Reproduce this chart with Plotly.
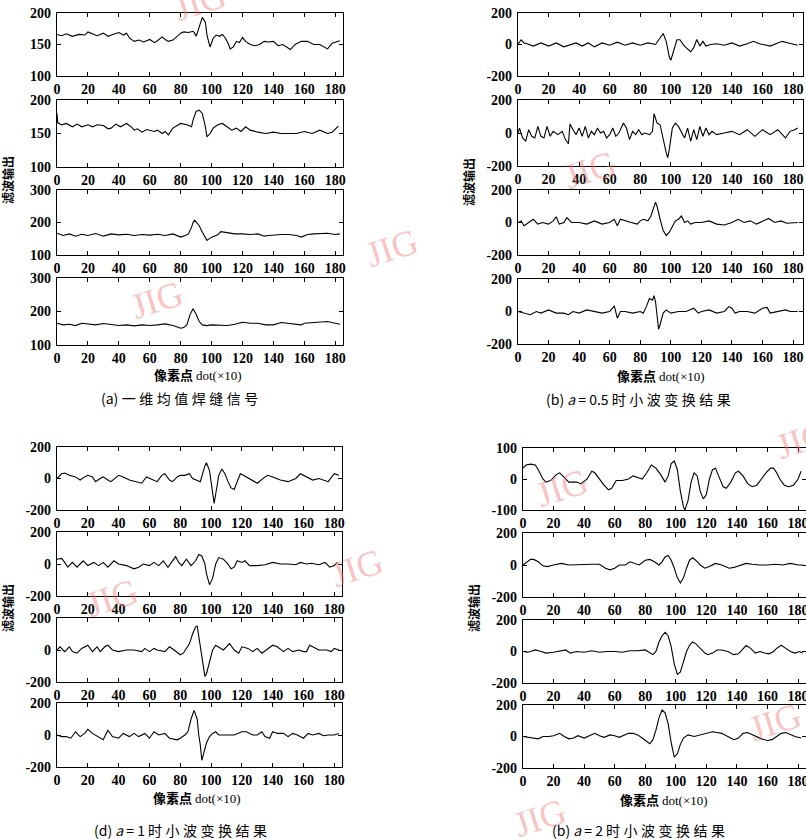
import plotly.graph_objects as go

W, H = 806, 839

X_TICKS = [0, 20, 40, 60, 80, 100, 120, 140, 160, 180]

# ---------- Panel (a): 1-D mean weld signal ----------
A1_X = [0,3,6,10,14,18,20,23,26,30,33,36,40,43,45,47,50,53,56,60,63,65,68,70,72,75,78,80,82,85,88,89,90,92,94,96,97,99,101,103,105,107,109,111,112,114,116,118,120,122,125,128,131,134,137,140,143,146,149,151,154,158,162,166,170,173,175,178,181,183]
A1_Y = [166,164,167,163,166,165,170,167,164,168,163,166,169,165,168,160,155,157,154,158,153,156,162,158,155,157,163,168,170,169,171,168,163,180,193,185,165,146,160,165,163,166,160,150,143,146,155,153,161,155,150,148,150,155,154,155,148,150,146,142,150,155,155,150,150,146,143,152,155,156]
A2_X = [0,0.5,3,6,10,13,16,20,23,26,30,33,35,38,41,45,48,50,52,55,58,60,63,65,68,70,72,75,78,80,84,87,88,90,92,94,96,97,99,101,104,107,110,113,116,119,122,125,130,135,140,145,150,155,160,165,170,175,178,181,182]
A2_Y = [180,166,163,165,160,164,160,163,160,163,162,157,158,164,160,165,160,155,157,152,156,155,153,155,150,153,148,158,163,165,163,160,170,183,185,180,160,145,150,158,163,165,160,155,158,153,160,155,152,150,152,150,150,150,153,150,155,150,152,158,161]
A3_X = [0,4,8,12,16,20,25,30,35,40,45,50,55,60,65,70,75,80,83,85,87,88,89,90,92,94,96,97,100,104,106,110,115,120,125,130,134,137,140,145,150,155,158,162,166,170,175,180,183]
A3_Y = [167,160,165,158,164,160,166,158,165,162,164,160,163,161,164,160,165,155,160,165,185,200,207,200,190,170,150,145,155,162,172,168,165,165,163,165,158,160,162,163,163,160,155,163,165,165,167,163,165]
A4_X = [0,4,8,12,16,20,25,30,35,40,45,50,55,60,65,70,75,78,80,82,84,86,88,90,92,94,97,100,105,110,115,120,125,130,135,140,145,150,155,158,160,165,170,175,180,183]
A4_Y = [165,160,162,158,165,162,160,164,160,158,160,157,160,158,160,163,158,152,150,152,160,190,208,192,170,160,158,160,158,158,162,168,165,165,160,160,167,165,163,160,165,167,168,170,165,162]

# ---------- Panel (b): a = 0.5 ----------
B1_X = [0,2,4,6,10,15,20,25,30,35,38,42,46,50,55,60,65,70,75,80,85,90,93,95,97,99,100,102,104,106,108,110,113,115,117,119,121,123,126,130,135,140,145,150,154,158,162,165,170,173,177,180,183]
B1_Y = [0,30,10,5,-10,10,-10,10,-15,0,10,-10,10,-15,10,-5,15,-5,10,-5,10,0,40,70,20,-80,-100,-40,30,30,0,-20,-46,-20,32,-10,20,-10,0,5,-5,10,-10,5,20,5,-5,-10,10,20,10,0,-5]
B2_X = [0,1,3,5,7,9,11,13,15,17,19,21,23,26,29,31,33,34,36,38,40,42,44,46,48,50,52,54,56,58,60,62,64,66,69,71,73,75,77,79,81,83,86,88,89,91,93,95,97,98,99,101,103,105,107,109,111,113,115,117,119,121,123,125,127,130,135,140,145,150,155,160,165,170,175,178,181,183]
B2_Y = [0,30,-30,-50,20,-20,-30,40,-20,-30,40,-20,10,-10,10,-40,-65,54,20,-10,30,-20,40,-30,10,-10,30,0,10,-30,-10,30,-20,0,60,30,-40,10,-10,20,-10,0,-10,10,117,60,50,-40,-120,-150,-100,30,60,40,0,-30,30,-50,20,-40,40,-20,30,-10,10,-10,0,10,-10,20,-20,20,-10,20,-30,10,20,30]
B3_X = [0,2,4,7,10,13,16,20,23,25,27,30,32,35,40,45,50,55,60,63,65,67,70,74,78,80,82,85,87,89,90,91,92,93,95,97,99,101,103,105,107,109,111,113,116,120,125,130,135,140,144,148,152,156,160,164,168,172,176,180,183]
B3_Y = [0,10,-20,0,20,-10,0,-10,10,35,-10,0,30,0,0,-10,10,-10,0,20,-20,20,10,0,-10,10,20,10,40,100,125,100,50,20,-50,-80,-60,-20,10,20,40,0,10,-10,0,0,10,-10,-15,0,20,0,10,-10,10,25,0,10,-5,0,0]
B4_X = [0,5,8,12,15,20,25,30,33,36,40,45,50,55,60,63,65,67,70,75,80,82,84,86,88,89,90,91,92,93,95,97,100,105,110,115,118,120,125,130,135,138,140,142,145,150,155,160,163,165,170,175,178,183]
B4_Y = [0,-10,-20,0,-10,10,-10,-10,-20,0,-10,10,0,-10,0,35,-41,0,0,-10,0,-10,30,80,70,97,60,-40,-109,-80,-10,10,-10,0,0,20,-10,0,10,-10,0,30,20,-10,0,0,-10,20,25,-10,0,10,0,0]

# ---------- Panel (d): a = 1 ----------
D1_X = [0,3,5,8,12,15,18,20,23,25,28,30,33,35,40,43,47,52,55,58,62,65,68,70,73,75,78,80,83,86,88,91,93,96,97,99,101,102,103,105,107,109,111,113,115,117,119,121,125,130,135,137,140,145,150,155,158,162,166,170,173,176,180,183]
D1_Y = [0,30,35,20,10,-10,10,20,10,-20,0,10,-10,-20,20,10,-10,-20,-30,10,-10,-20,20,30,-10,-20,10,20,20,30,0,-10,-20,80,100,50,-100,-158,-100,20,60,30,-20,-60,-70,-20,30,20,0,-30,10,20,10,-10,-20,0,30,10,-10,0,-10,-20,30,20]
D2_X = [0,3,5,7,10,13,17,20,24,27,30,33,37,40,45,50,53,56,60,63,66,69,72,75,77,79,81,84,87,90,92,94,96,97,99,101,103,105,108,111,113,115,117,120,122,125,130,135,140,145,150,155,158,162,165,170,174,177,180,182]
D2_Y = [30,35,10,-20,10,-20,20,-10,10,-10,10,-20,20,0,-10,-30,-20,0,-10,10,-10,20,-20,20,46,10,-10,30,-10,20,60,50,0,-60,-129,-90,0,40,30,0,-30,-20,20,10,20,-10,-10,-5,10,0,0,-5,10,0,5,-5,10,-20,-10,10]
D3_X = [0,2,5,8,10,13,16,20,23,26,28,31,33,36,40,45,50,55,57,60,63,65,70,73,76,80,82,84,86,88,90,91,92,94,96,97,99,101,103,105,108,110,112,115,118,120,124,127,130,133,136,140,143,147,150,153,157,160,162,164,166,170,175,178,180,183]
D3_Y = [0,20,-10,20,-10,-20,10,30,-10,20,-10,20,30,0,-10,0,0,-10,10,-10,10,0,-10,20,0,-30,-20,10,40,100,145,150,90,-40,-165,-150,-80,0,30,20,0,20,40,0,-20,20,10,-10,10,-20,0,30,20,-10,10,-10,0,-10,-10,30,20,0,0,-10,10,0]
D4_X = [0,3,6,9,12,15,18,20,23,27,30,33,36,40,43,47,50,53,57,60,63,66,70,73,78,80,83,85,87,89,91,92,93,94,95,97,99,101,103,105,110,115,120,123,127,130,133,135,138,140,143,147,150,153,156,160,163,166,170,173,176,180,183]
D4_Y = [0,-10,-10,-20,20,-10,10,36,10,-10,-30,30,-10,-20,10,-10,10,-10,10,-20,20,0,10,-20,-30,-20,0,20,100,154,100,0,-60,-158,-120,-50,-10,10,20,0,0,0,20,20,0,0,20,-10,-20,20,10,10,-10,10,0,-20,10,0,10,-5,0,0,10]

# ---------- Panel (b'): a = 2 ----------
E1_X = [0,2,5,8,10,13,15,18,22,24,27,30,35,38,42,45,47,50,53,56,58,61,65,69,72,75,78,81,84,87,90,93,95,97,99,101,103,105,106,108,110,112,114,116,118,120,122,124,126,128,131,133,136,139,141,144,147,150,153,156,159,162,164,166,168,171,174,177,180,182]
E1_Y = [35,45,48,45,30,0,-10,-5,15,20,5,-10,-10,-15,0,25,20,0,-20,-35,-30,-5,-5,0,10,5,0,20,45,35,15,-10,10,50,58,30,-40,-90,-100,-70,-10,20,10,-40,-64,-50,0,30,35,10,-25,-30,-10,20,25,10,-15,-25,-20,0,20,35,35,20,0,-20,-25,-20,0,25]
E2_X = [0,3,5,7,10,13,16,20,25,30,40,45,50,54,57,60,63,67,70,73,76,80,83,86,89,91,93,95,97,99,101,103,105,107,109,111,113,116,119,122,126,130,135,138,142,146,150,155,160,165,170,175,180,183]
E2_Y = [0,20,35,35,20,-5,-10,0,10,0,5,5,5,-20,-30,-20,0,0,20,10,0,30,35,20,0,20,50,60,30,-20,-80,-112,-80,-20,30,45,30,0,-20,-10,10,0,-20,-15,0,10,5,0,0,5,0,10,0,0]
E3_X = [0,3,5,8,12,15,20,25,28,31,35,40,45,50,55,60,65,70,75,80,83,85,87,89,91,93,95,97,99,101,103,105,107,109,111,113,116,119,121,124,127,130,134,138,141,144,146,149,152,155,158,161,164,166,169,172,175,178,181,183]
E3_Y = [0,-5,0,10,0,-10,-5,5,10,-10,0,-5,5,-5,0,0,-5,5,5,10,-10,-20,0,60,100,122,100,30,-80,-145,-130,-60,0,40,60,50,20,-10,-20,-10,10,10,0,-20,-15,20,38,20,-10,0,-10,-15,0,20,40,20,0,-10,0,-10]
E4_X = [0,3,7,10,13,17,20,24,27,30,33,36,40,44,47,50,53,57,60,63,66,69,72,75,78,81,83,85,87,89,91,93,95,97,99,101,103,105,108,112,116,120,124,127,130,134,138,141,144,147,150,153,156,160,163,166,169,172,175,178,182]
E4_Y = [0,-5,-10,-15,0,0,5,20,0,-15,-10,5,-10,10,20,5,-5,10,5,-5,5,20,20,10,-10,-30,-46,-20,40,120,168,150,80,-40,-131,-110,-50,-10,10,0,10,20,30,25,20,0,-20,-10,20,25,10,-5,-15,-25,-20,0,20,25,10,0,-10]

# y tick values per subplot
YT_A12 = [100, 150, 200]
YT_A34 = [100, 200, 300]
YT_200 = [-200, 0, 200]
YT_100 = [-100, 0, 100]

panels = [
    # (x data, y data, x px left, x px right, y px top, y px bottom, xmax, yrange, yticks)
    (A1_X, A1_Y, 57, 343, 13, 76, 185, [100, 200], YT_A12),
    (A2_X, A2_Y, 57, 343, 100, 167, 185, [100, 200], YT_A12),
    (A3_X, A3_Y, 57, 343, 190, 255, 185, [100, 300], YT_A34),
    (A4_X, A4_Y, 57, 343, 278, 345, 185, [100, 300], YT_A34),
    (B1_X, B1_Y, 518, 803, 13, 76, 186.5, [-200, 200], YT_200),
    (B2_X, B2_Y, 518, 803, 100, 166, 186.5, [-200, 200], YT_200),
    (B3_X, B3_Y, 518, 803, 190, 255, 186.5, [-200, 200], YT_200),
    (B4_X, B4_Y, 518, 803, 279, 344, 186.5, [-200, 200], YT_200),
    (D1_X, D1_Y, 57, 342, 447, 510, 185, [-200, 200], YT_200),
    (D2_X, D2_Y, 57, 342, 532, 596, 185, [-200, 200], YT_200),
    (D3_X, D3_Y, 57, 342, 618, 682, 185, [-200, 200], YT_200),
    (D4_X, D4_Y, 57, 342, 703, 767, 185, [-200, 200], YT_200),
    (E1_X, E1_Y, 523, 806, 448, 510, 185.2, [-100, 100], YT_100),
    (E2_X, E2_Y, 523, 806, 533, 597, 185.2, [-200, 200], YT_200),
    (E3_X, E3_Y, 523, 806, 620, 683, 185.2, [-200, 200], YT_200),
    (E4_X, E4_Y, 523, 806, 705, 768, 185.2, [-200, 200], YT_200),
]

TICK_FONT = dict(family="Liberation Serif", size=14, color="black", weight="bold")

fig = go.Figure()
layout = {}
for i, (xs, ys, xl, xr, yt, yb, xmax, yr, yticks) in enumerate(panels, start=1):
    sfx = "" if i == 1 else str(i)
    fig.add_trace(go.Scatter(
        x=xs, y=ys, mode="lines",
        line=dict(color="black", width=1.1),
        xaxis="x" + sfx, yaxis="y" + sfx, showlegend=False, hoverinfo="skip",
    ))
    common = dict(
        showline=True, linecolor="black", linewidth=1.2, mirror="ticks",
        ticks="inside", ticklen=4, tickwidth=1, tickcolor="black",
        showgrid=False, zeroline=False, tickfont=TICK_FONT, fixedrange=True,
        automargin=False, ticklabeloverflow="allow",
    )
    layout["xaxis" + sfx] = dict(
        domain=[xl / W, xr / W], range=[0, xmax], tickvals=X_TICKS,
        anchor="y" + sfx, ticklabelstandoff=0, **common)
    layout["yaxis" + sfx] = dict(
        domain=[1 - yb / H, 1 - yt / H], range=yr, tickvals=yticks,
        ticktext=[str(v) for v in yticks], anchor="x" + sfx,
        ticklabelstandoff=2, **common)

fig.update_layout(**layout)

CJK = "Noto Sans CJK SC"
annotations = []

def ann(text, x, y, size=12, angle=0, family=CJK, color="black"):
    annotations.append(dict(
        text=text, x=x / W, y=1 - y / H, xref="paper", yref="paper",
        showarrow=False, textangle=angle, xanchor="center", yanchor="middle",
        font=dict(family=family, size=size, color=color)))

# y-axis titles
for (x, y) in [(7, 180), (468, 182), (7, 608), (473, 608)]:
    ann("<b>滤波输出</b>", x, y, size=12, angle=-90)

# x-axis titles
for (x, y) in [(198, 374), (661, 375), (197, 797), (664, 799)]:
    ann("<b>像素点</b> <span style='font-family:Liberation Serif'>dot(×10)</span>", x, y, size=13)

# captions (extra spaces reproduce the wide character spacing)
T = "\u2005"
def spaced(s):
    return T.join(list(s))

ann("(a)" + T + spaced("一维均值焊缝信号"), 179, 398, size=14)
ann("(b) <i>a</i> = 0.5 " + spaced("时小波变换结果"), 638, 399, size=14)
ann("(d) <i>a</i> = 1 " + spaced("时小波变换结果"), 180, 830, size=14)
ann("(b) <i>a</i> = 2 " + spaced("时小波变换结果"), 638, 830, size=14)

# watermarks
WM = "rgba(240,120,120,0.45)"
for (x, y) in [(200, 2), (392, 248), (157, 300), (590, 170), (562, 488), (357, 568), (112, 598), (802, 440), (775, 722), (540, 818)]:
    ann("JIG", x, y, size=36, angle=-18, family="Liberation Serif", color=WM)

fig.update_layout(
    width=W, height=H, margin=dict(l=0, r=0, t=0, b=0),
    paper_bgcolor="white", plot_bgcolor="white",
    annotations=annotations,
)

fig.write_html(
    "out.html",
    config={"displayModeBar": False},
    post_script="document.body.style.margin='0px';document.body.style.overflow='hidden';",
)
